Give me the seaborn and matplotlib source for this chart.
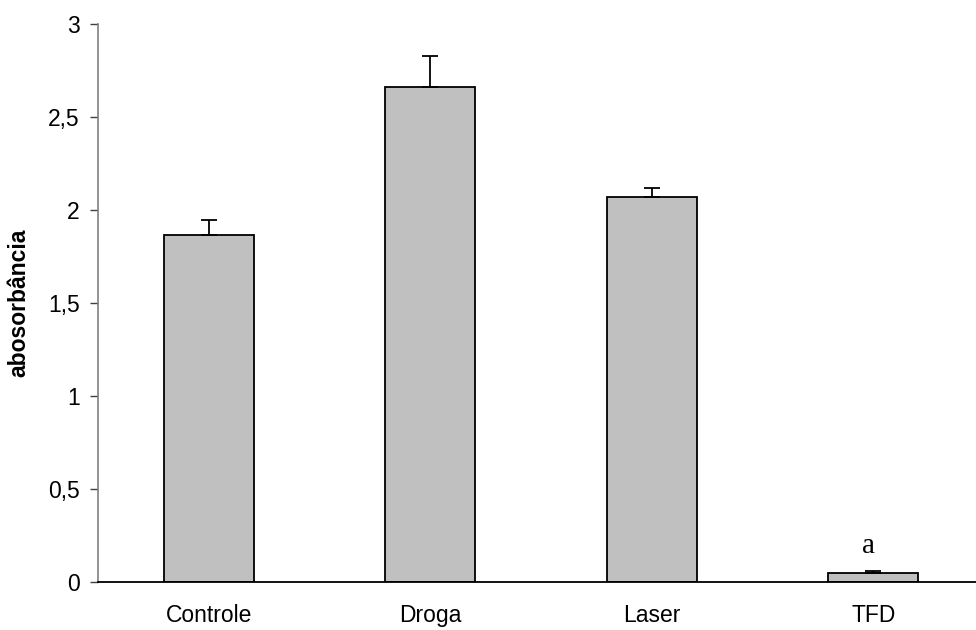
import numpy as np
import pandas as pd
import matplotlib
matplotlib.use("Agg")
import matplotlib.pyplot as plt
import seaborn as sns
from matplotlib.ticker import FixedLocator, FuncFormatter

sns.set_style("white")
plt.rcParams["font.family"] = ["Liberation Sans", "DejaVu Sans"]
plt.rcParams["text.color"] = "black"
plt.rcParams["axes.labelcolor"] = "black"
plt.rcParams["xtick.labelcolor"] = "black"
plt.rcParams["ytick.labelcolor"] = "black"

# Mean absorbance per group and upper error
grupos = ["Controle", "Droga", "Laser", "TFD"]
absorbancia = [1.865, 2.66, 2.07, 0.048]
erro = [0.08, 0.17, 0.047, 0.011]
marcas = ["", "", "", "a"]
yticks = [0, 0.5, 1, 1.5, 2, 2.5, 3]

df = pd.DataFrame({"grupo": grupos, "abs": absorbancia})

fig = plt.figure(figsize=(9.76, 6.30), dpi=100)
ax = fig.add_axes([98 / 976, 1 - 582 / 630, 886 / 976, 558 / 630])

sns.barplot(data=df, x="grupo", y="abs", color="#C0C0C0", edgecolor="black",
            linewidth=1.3, width=0.405, errorbar=None, saturation=1, ax=ax)

xs = np.arange(len(grupos))
ax.errorbar(xs, absorbancia, yerr=[np.zeros(len(erro)), erro], fmt="none",
            ecolor="black", elinewidth=1.3, capsize=6, capthick=1.3, zorder=3)

for x, y, e, m in zip(xs, absorbancia, erro, marcas):
    if m:
        ax.text(x - 0.02, y + e + 0.097, m, ha="center", va="baseline", color="black",
                family=["Liberation Serif", "DejaVu Serif"], fontsize=21)

ax.set_xlim(-0.5, len(grupos) - 0.5)
ax.set_ylim(0, 3)
ax.yaxis.set_major_locator(FixedLocator(yticks))
ax.yaxis.set_major_formatter(FuncFormatter(lambda v, p: f"{v:g}".replace(".", ",")))

ax.set_xticks(xs)
ax.set_xticklabels(grupos)
ax.set_xticks(np.arange(len(grupos) + 1) - 0.5, minor=True)
ax.tick_params(axis="x", which="major", length=0, pad=16, labelsize=16.5, labelcolor="black")
ax.tick_params(axis="x", which="minor", length=7, width=1.3, color="#303030", direction="out")
ax.tick_params(axis="y", which="major", length=6, width=1, color="#404040",
               direction="out", pad=7, labelsize=16.5, left=True, labelcolor="black")

ax.set_xlabel("")
ax.set_ylabel("abosorbância", fontsize=16.5, fontweight="bold", color="black")
ax.yaxis.set_label_coords(-68 / 886, 0.5)

for s in ["top", "right"]:
    ax.spines[s].set_visible(False)
ax.spines["left"].set_color("#808080")
ax.spines["left"].set_linewidth(1.2)
ax.spines["bottom"].set_color("black")
ax.spines["bottom"].set_linewidth(1.3)
ax.grid(False)

fig.savefig("out.png", dpi=100)
